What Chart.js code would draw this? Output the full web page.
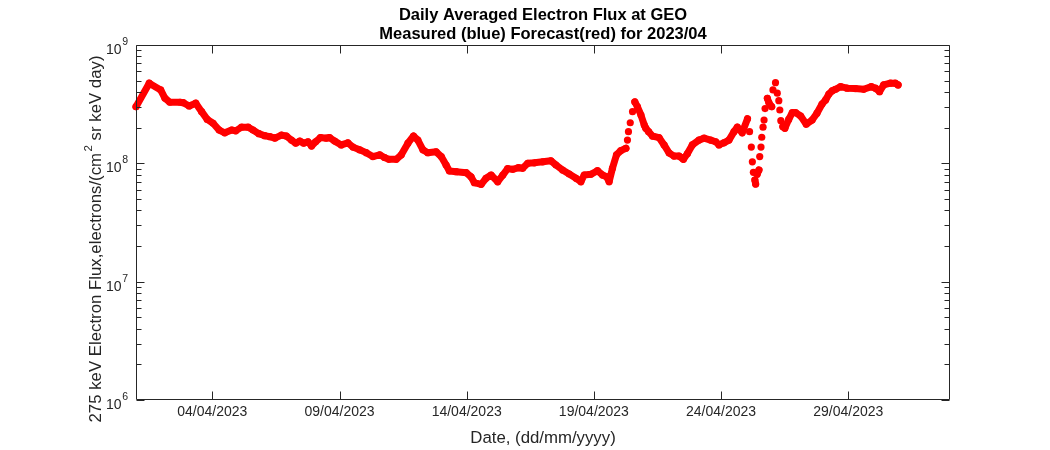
<!DOCTYPE html>
<html><head><meta charset="utf-8">
<script src="https://cdn.jsdelivr.net/npm/chart.js@4.4.1/dist/chart.umd.min.js"></script>
<style>html,body{margin:0;padding:0;background:#fff;}</style>
</head><body>
<canvas id="c" width="1050" height="450"></canvas>
<script>
const titleLines = ['Daily Averaged Electron Flux at GEO', 'Measured (blue) Forecast(red) for 2023/04'];
const xAxisTitle = 'Date, (dd/mm/yyyy)';
const yAxisTitleParts = ['275 keV Electron Flux,electrons/(cm', '2', ' sr keV day)'];
const xRange = [1, 33];
const xTickDays = [4, 9, 14, 19, 24, 29];
const xTickLabels = ['04/04/2023', '09/04/2023', '14/04/2023', '19/04/2023', '24/04/2023', '29/04/2023'];
const yMajorTicks = [1e6, 1e7, 1e8, 1e9];
const yTickBase = '10';
const yTickExponents = ['6', '7', '8', '9'];
const yMinorFactors = [2, 3, 4, 5, 6, 7, 8, 9];

// forecast (red) series: day of April 2023 (fractional) and flux
const forecastDays = [
 1.00,1.52,1.97,2.14,2.33,2.73,2.86,3.09,3.35,3.58,3.80,4.03,4.27,4.49,4.76,4.92,5.15,5.41,5.60,5.83,
 6.06,6.26,6.46,6.72,6.91,7.11,7.28,7.44,7.59,7.76,7.90,8.06,8.25,8.48,8.61,8.81,9.07,9.33,9.53,9.79,
 10.05,10.31,10.58,10.77,10.94,11.23,11.43,11.69,11.91,12.08,12.28,12.47,12.80,13.00,13.19,13.32,13.59,13.98,14.17,14.30,
 14.57,14.76,14.96,15.22,15.42,15.61,15.81,16.04,16.20,16.40,16.66,16.99,17.31,17.51,17.77,18.03,18.30,18.49,18.62,18.88,
 19.14,19.34,19.50,19.60,19.73,19.89,20.06,20.26,20.32,20.36,20.43,20.52,20.61,20.71,20.85,20.98,21.04,21.15,21.30,21.56,
 21.76,21.96,22.15,22.35,22.52,22.68,22.87,23.13,23.33,23.59,23.79,23.92,24.11,24.31,24.51,24.64,24.83,25.04,25.12,25.19,
 25.23,25.27,25.33,25.36,25.42,25.49,25.52,25.57,25.60,25.65,25.69,25.73,25.82,25.88,25.99,26.04,26.14,26.21,26.27,26.31,
 26.35,26.43,26.51,26.66,26.80,26.93,27.13,27.35,27.58,27.77,27.97,28.11,28.24,28.37,28.50,28.70,28.95,29.28,29.61,29.91,
 30.07,30.23,30.39,30.66,30.85,30.96
];
const forecastFlux = [
 3.01e8,4.75e8,4.17e8,3.54e8,3.28e8,3.28e8,3.25e8,3.05e8,3.22e8,2.73e8,2.35e8,2.18e8,1.91e8,1.81e8,1.91e8,1.88e8,2.02e8,2.02e8,1.91e8,1.78e8,
 1.71e8,1.68e8,1.63e8,1.73e8,1.70e8,1.57e8,1.48e8,1.54e8,1.48e8,1.52e8,1.40e8,1.52e8,1.65e8,1.63e8,1.65e8,1.54e8,1.43e8,1.49e8,1.37e8,1.30e8,
 1.23e8,1.14e8,1.18e8,1.12e8,1.08e8,1.08e8,1.18e8,1.48e8,1.70e8,1.57e8,1.30e8,1.23e8,1.25e8,1.14e8,9.67e7,8.61e7,8.49e7,8.33e7,7.70e7,6.86e7,
 6.64e7,7.47e7,7.96e7,6.99e7,7.96e7,9.00e7,8.90e7,9.18e7,9.07e7,1.00e8,1.01e8,1.03e8,1.05e8,9.67e7,8.78e7,8.12e7,7.47e7,6.99e7,7.96e7,8.07e7,
 8.66e7,7.96e7,7.70e7,6.99e7,9.07e7,1.18e8,1.28e8,1.34e8,1.57e8,1.85e8,2.20e8,2.73e8,3.30e8,3.01e8,2.56e8,2.11e8,1.98e8,1.85e8,1.70e8,1.65e8,
 1.43e8,1.22e8,1.15e8,1.15e8,1.08e8,1.21e8,1.43e8,1.57e8,1.63e8,1.57e8,1.52e8,1.43e8,1.49e8,1.57e8,1.85e8,2.02e8,1.81e8,2.38e8,1.85e8,1.37e8,
 1.03e8,8.39e7,7.22e7,6.68e7,8.10e7,8.78e7,1.14e8,1.37e8,1.66e8,2.02e8,2.32e8,2.90e8,3.54e8,3.25e8,3.01e8,4.17e8,4.80e8,3.91e8,3.38e8,2.82e8,
 2.29e8,2.04e8,1.98e8,2.35e8,2.68e8,2.68e8,2.51e8,2.14e8,2.32e8,2.65e8,3.17e8,3.43e8,3.85e8,4.10e8,4.22e8,4.44e8,4.31e8,4.28e8,4.22e8,4.44e8,
 4.31e8,4.03e8,4.59e8,4.75e8,4.75e8,4.59e8
];

const yMinorTicks = yMajorTicks.slice(0, -1).flatMap(d => yMinorFactors.map(f => f * d));
const yAllTicks = yMajorTicks.concat(yMinorTicks).sort((a, b) => a - b);

const AX = '#262626';
const FONT = "'Liberation Sans', Arial, Helvetica, sans-serif";
Chart.defaults.font.family = FONT;

const boxTicks = {
  id: 'boxTicks',
  afterDatasetsDraw(chart) {
    const {ctx, chartArea: {left, right, top, bottom}, scales: {x, y}} = chart;
    const L = Math.round(left) + 0.5, R = Math.round(right) - 0.5, T = Math.round(top) + 0.5, B = Math.round(bottom) - 0.5;
    ctx.save();
    ctx.strokeStyle = AX; ctx.lineWidth = 1;
    ctx.beginPath();
    ctx.rect(L, T, R - L, B - T);
    x.ticks.forEach(t => {
      const px = Math.round(x.getPixelForValue(t.value)) + 0.5;
      ctx.moveTo(px, B); ctx.lineTo(px, B - 8);
      ctx.moveTo(px, T); ctx.lineTo(px, T + 8);
    });
    y.ticks.forEach(t => {
      const py = Math.round(y.getPixelForValue(t.value)) + 0.5;
      const len = yMajorTicks.includes(t.value) ? 8 : 5;
      ctx.moveTo(L, py); ctx.lineTo(L + len, py);
      ctx.moveTo(R, py); ctx.lineTo(R - len, py);
    });
    ctx.stroke();

    // y tick labels: base with raised exponent
    ctx.fillStyle = AX;
    ctx.textBaseline = 'middle';
    yMajorTicks.forEach((v, i) => {
      const py = y.getPixelForValue(v);
      ctx.font = '10.5px ' + FONT;
      const ew = ctx.measureText(yTickExponents[i]).width;
      const xr = left - 8;
      ctx.textAlign = 'right';
      ctx.fillText(yTickExponents[i], xr, py - 3);
      ctx.font = '14px ' + FONT;
      ctx.fillText(yTickBase, xr - ew - 0.5, py + 5);
    });

    // y axis title (rotated) with superscript
    const cx = 96, cy = 239;
    ctx.save();
    ctx.translate(cx, cy);
    ctx.rotate(-Math.PI / 2);
    ctx.textAlign = 'left';
    ctx.textBaseline = 'middle';
    const mainFont = '16.8px ' + FONT, supFont = '11.5px ' + FONT;
    ctx.font = mainFont; const w1 = ctx.measureText(yAxisTitleParts[0]).width;
    ctx.font = supFont; const w2 = ctx.measureText(yAxisTitleParts[1]).width;
    ctx.font = mainFont; const w3 = ctx.measureText(yAxisTitleParts[2]).width;
    let sx = -(w1 + w2 + w3 + 1.5) / 2;
    ctx.font = mainFont; ctx.fillText(yAxisTitleParts[0], sx, 0); sx += w1 + 1.5;
    ctx.font = supFont; ctx.fillText(yAxisTitleParts[1], sx, -7); sx += w2;
    ctx.font = mainFont; ctx.fillText(yAxisTitleParts[2], sx, 0);
    ctx.restore();
    ctx.restore();
  }
};

new Chart(document.getElementById('c'), {
  type: 'scatter',
  data: {
    datasets: [{
      label: 'Forecast',
      data: forecastDays.map((d, i) => ({x: d, y: forecastFlux[i]})),
      showLine: true,
      borderColor: '#ff0000',
      backgroundColor: '#ff0000',
      borderWidth: 7,
      borderCapStyle: 'round',
      borderJoinStyle: 'round',
      pointRadius: 3.6,
      pointBorderWidth: 0,
      pointBackgroundColor: '#ff0000',
      clip: false,
      segment: {
        borderColor: c => {
          const dx = Math.abs(c.p1.x - c.p0.x), dy = Math.abs(c.p1.y - c.p0.y);
          return (dx < 3 && dy > 5) ? 'rgba(0,0,0,0)' : undefined;
        }
      }
    }]
  },
  options: {
    responsive: false,
    animation: false,
    devicePixelRatio: 1,
    layout: {padding: {left: 0, right: 100, top: 0, bottom: 0}},
    plugins: {
      legend: {display: false},
      tooltip: {enabled: false},
      title: {
        display: true,
        fullSize: false,
        text: titleLines,
        color: '#000',
        font: {size: 16.5, weight: 'bold', family: FONT, lineHeight: 1.15},
        padding: {top: 5.5, bottom: 1.5}
      }
    },
    scales: {
      x: {
        type: 'linear',
        min: xRange[0], max: xRange[1],
        afterBuildTicks: s => { s.ticks = xTickDays.map(v => ({value: v})); },
        afterFit: s => { s.height = 50; },
        grid: {display: false, drawTicks: false},
        border: {display: false},
        ticks: {
          autoSkip: false, maxRotation: 0, padding: 4, color: AX,
          font: {size: 14, family: FONT},
          callback: v => { const i = xTickDays.indexOf(v); return i >= 0 ? xTickLabels[i] : ''; }
        },
        title: {display: true, text: xAxisTitle, color: AX, font: {size: 16.8, family: FONT, lineHeight: 1.2}, padding: {top: 0, bottom: 2}}
      },
      y: {
        type: 'logarithmic',
        min: 1e6, max: 1e9,
        afterBuildTicks: s => { s.ticks = yAllTicks.map(v => ({value: v, major: yMajorTicks.includes(v)})); },
        afterFit: s => { s.width = 136; },
        grid: {display: false, drawTicks: false},
        border: {display: false},
        ticks: {display: false, autoSkip: false},
        title: {display: false}
      }
    }
  },
  plugins: [boxTicks]
});
</script>
</body></html>
